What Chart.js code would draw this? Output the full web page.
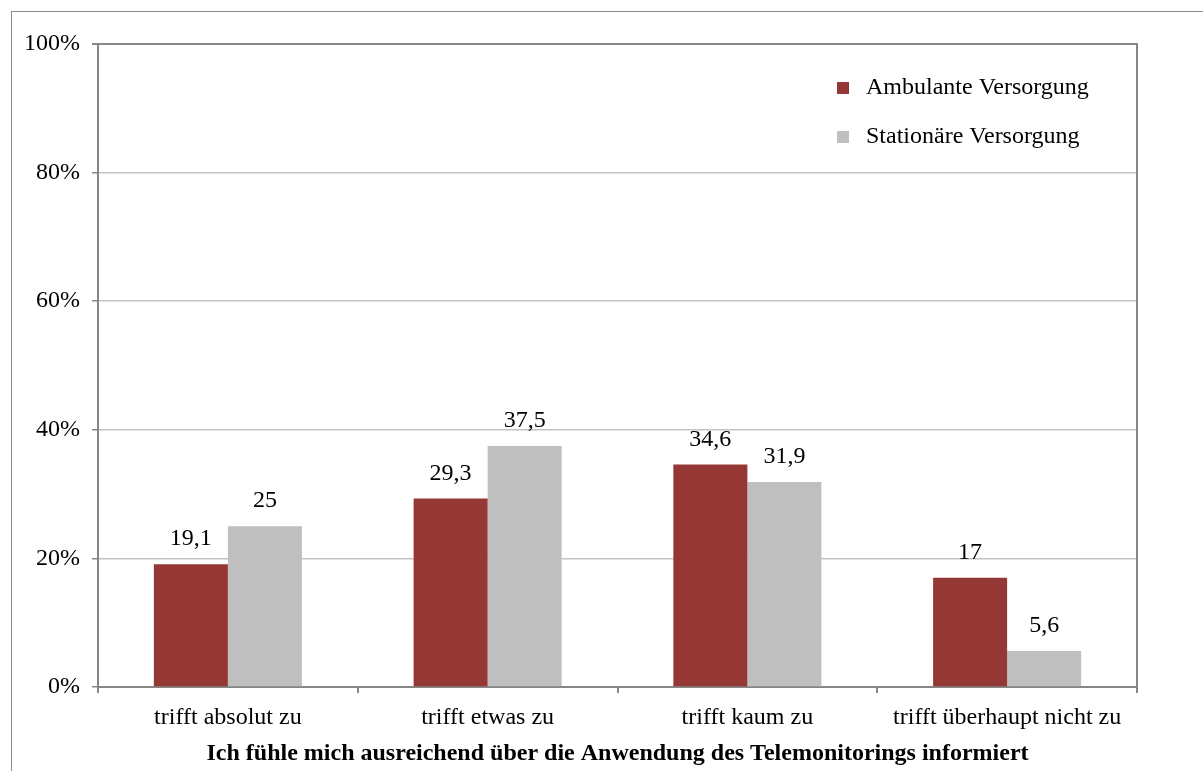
<!DOCTYPE html>
<html>
<head>
<meta charset="utf-8">
<script src="https://cdn.jsdelivr.net/npm/chart.js@4.4.0/dist/chart.umd.min.js"></script>
<style>
  html, body { margin: 0; padding: 0; background: #fff; overflow: hidden; }
  .frame { position: absolute; left: 11px; top: 11px; width: 1300px; height: 900px; border: 1px solid #8c8c8c; }
  .wrap { position: absolute; left: 0; top: 0; width: 1203px; height: 771px; }
</style>
</head>
<body>
<div class="frame"></div>
<div class="wrap"><canvas id="myChart" width="1203" height="771"></canvas></div>
<script>
const categories = ["trifft absolut zu", "trifft etwas zu", "trifft kaum zu", "trifft überhaupt nicht zu"];
const ambulant = [19.1, 29.3, 34.6, 17];
const stationaer = [25, 37.5, 31.9, 5.6];
const seriesNames = ["Ambulante Versorgung", "Stationäre Versorgung"];
const seriesColors = ["#953735", "#bfbfbf"];
const xTitle = "Ich fühle mich ausreichend über die Anwendung des Telemonitorings informiert";

const FONT = "'Liberation Serif', 'Times New Roman', serif";
const AXIS = "#868686";

// value labels above bars, german decimal comma
const valueLabels = {
  id: "valueLabels",
  afterDatasetsDraw(chart) {
    const ctx = chart.ctx;
    ctx.save();
    ctx.font = "24px " + FONT;
    ctx.fillStyle = "#000";
    ctx.textAlign = "center";
    ctx.textBaseline = "alphabetic";
    chart.data.datasets.forEach((ds, i) => {
      chart.getDatasetMeta(i).data.forEach((bar, j) => {
        const txt = String(ds.data[j]).replace(".", ",");
        ctx.fillText(txt, bar.x, bar.y - 19);
      });
    });
    ctx.restore();
  }
};

// frame of the plot area (top + right) and legend inside
const plotFrame = {
  id: "plotFrame",
  afterDraw(chart) {
    const a = chart.chartArea;
    const ctx = chart.ctx;
    ctx.save();
    ctx.strokeStyle = AXIS;
    ctx.lineWidth = 2;
    ctx.beginPath();
    ctx.moveTo(a.left - 6, a.top);
    ctx.lineTo(a.right, a.top);
    ctx.lineTo(a.right, a.bottom + 6);
    ctx.stroke();

    ctx.font = "24px " + FONT;
    ctx.textBaseline = "middle";
    ctx.textAlign = "left";
    chart.data.datasets.forEach((ds, i) => {
      const y = 88 + i * 49;
      ctx.fillStyle = ds.backgroundColor;
      ctx.fillRect(837, y - 6, 12, 12);
      ctx.fillStyle = "#000";
      ctx.fillText(ds.label, 866, y);
    });
    ctx.restore();
  }
};

new Chart(document.getElementById("myChart"), {
  type: "bar",
  data: {
    labels: categories,
    datasets: [
      { label: seriesNames[0], data: ambulant, backgroundColor: seriesColors[0] },
      { label: seriesNames[1], data: stationaer, backgroundColor: seriesColors[1] }
    ]
  },
  options: {
    responsive: false,
    animation: false,
    layout: { padding: { left: 0, right: 66, top: 44, bottom: 0 } },
    datasets: { bar: { categoryPercentage: 0.57, barPercentage: 1 } },
    plugins: { legend: { display: false }, tooltip: { enabled: false } },
    scales: {
      x: {
        afterFit(s) { s.height = 84; },
        grid: { offset: true, drawOnChartArea: false, tickLength: 6, tickColor: AXIS, lineWidth: 2 },
        border: { color: AXIS, width: 2 },
        ticks: { color: "#000", font: { family: FONT, size: 24 }, padding: 10 },
        title: {
          display: true, text: xTitle, color: "#000",
          font: { family: FONT, size: 24, weight: "bold" },
          padding: { top: 2, bottom: 3 }
        }
      },
      y: {
        min: 0, max: 100,
        afterFit(s) { s.width = 98; },
        grid: {
          tickLength: 6,
          color: (c) => c.tick && c.tick.value === 100 ? AXIS : "#c3c3c3",
          tickColor: AXIS,
          lineWidth: 1.5
        },
        border: { color: AXIS, width: 2 },
        ticks: {
          stepSize: 20, color: "#000", padding: 12,
          font: { family: FONT, size: 24 },
          callback: (v) => v + "%"
        }
      }
    }
  },
  plugins: [valueLabels, plotFrame]
});
</script>
</body>
</html>
